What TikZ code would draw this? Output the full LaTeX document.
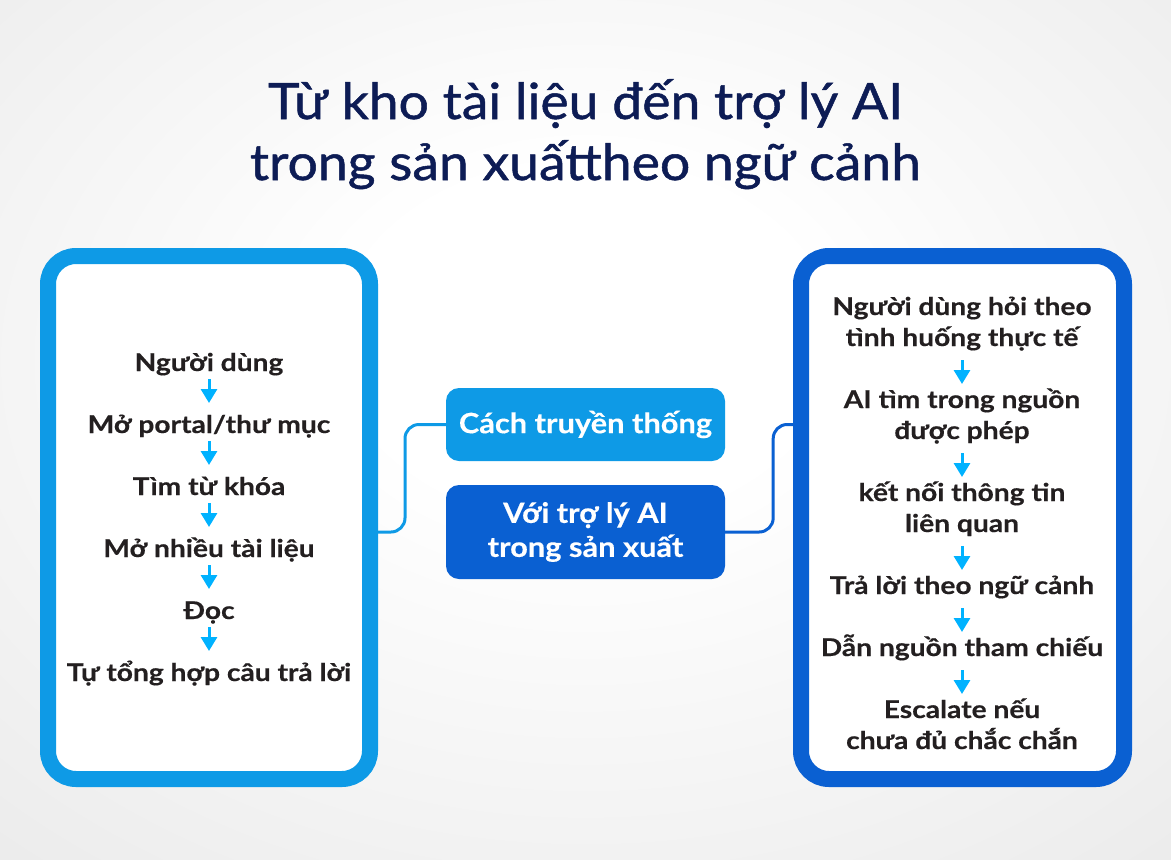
\documentclass[tikz,border=0pt]{standalone}
\usepackage{fontspec}
\setmainfont{Lato}[FakeStretch=1.15,FakeBold=0.4]
\newfontfamily\titlefont{Lato}[FakeBold=1,FakeStretch=1.07]
\newfontfamily\tagfont{Lato}[FakeStretch=1.1,FakeBold=0.3]
\usetikzlibrary{arrows.meta,calc}
\definecolor{lblue}{HTML}{0E9AE6}
\definecolor{dblue}{HTML}{0A60D2}
\definecolor{arrc}{HTML}{00B2FF}
\definecolor{titlec}{HTML}{0D1C55}
\definecolor{txtc}{HTML}{231F20}
\pgfdeclareradialshading{bgshade}{\pgfpoint{0bp}{6bp}}{color(0bp)=(white);color(10bp)=(white);color(50bp)=(black!11);color(75bp)=(black!18)}
\begin{document}
\begin{tikzpicture}[x=1pt,y=-1pt,
  panel/.style={draw, line width=16pt, rounded corners=28pt, fill=white, minimum width=322pt, minimum height=523pt, inner sep=0pt},
  tag/.style={rounded corners=13pt, text=white, font=\tagfont\bfseries\fontsize{28}{34}\selectfont, minimum width=279pt, inner sep=0pt, align=center},
  stepl/.style={font=\bfseries\fontsize{24.5}{31}\selectfont, text=txtc, anchor=base, inner sep=0pt},
  titl/.style={font=\titlefont\fontsize{50}{61}\selectfont, text=titlec, anchor=base, inner sep=0pt},
  flow/.style={draw=arrc, line width=3pt, -{Triangle[width=16pt,length=14pt]}},
  link/.style={line width=3pt, rounded corners=14pt}
]
\shade[shading=bgshade] (0,0) rectangle (1171,860);
\useasboundingbox (0,0) rectangle (1171,860);

\node[titl] (title1) at (585.5,119) {Từ kho tài liệu đến trợ lý AI};
\node[titl] (title2) at (585.5,180) {trong sản xuấttheo ngữ cảnh};

\node[panel, draw=lblue] (left) at (209,517.5) {};
\node[panel, draw=dblue, minimum width=323pt] (right) at (962.5,517.5) {};

\node[tag, fill=lblue, minimum height=73pt] (trad) at (585.5,424.5) {Cách truyền thống};
\node[tag, fill=dblue, minimum height=94pt] (ai) at (585.5,532) {Với trợ lý AI\\trong sản xuất};

\draw[link, draw=lblue] (left.east |- ai.center) -- ++(27,0) |- (trad.west);
\draw[link, draw=dblue] (ai.east) -- ++(48,0) |- (right.west |- trad.west);

\node[stepl] (l1) at (209,371) {Người dùng};
\node[stepl] (l2) at (209,433) {Mở portal/thư mục};
\node[stepl] (l3) at (209,495) {Tìm từ khóa};
\node[stepl] (l4) at (209,557) {Mở nhiều tài liệu};
\node[stepl] (l5) at (209,619) {Đọc};
\node[stepl] (l6) at (209,681) {Tự tổng hợp câu trả lời};
\foreach \a/\b in {l1/l2,l2/l3,l3/l4,l4/l5,l5/l6}
  \draw[flow] ($(\a.base)+(0,8)$) -- ($(\b.base)+(0,-30)$);

\node[stepl] (r1) at (962,315) {Người dùng hỏi theo};
\node[stepl] (r1b) at (962,346) {tình huống thực tế};
\node[stepl] (r2) at (962,408) {AI tìm trong nguồn};
\node[stepl] (r2b) at (962,439) {được phép};
\node[stepl] (r3) at (962,501) {kết nối thông tin};
\node[stepl] (r3b) at (962,532) {liên quan};
\node[stepl] (r4) at (962,594) {Trả lời theo ngữ cảnh};
\node[stepl] (r5) at (962,656) {Dẫn nguồn tham chiếu};
\node[stepl] (r6) at (962,718) {Escalate nếu};
\node[stepl] (r6b) at (962,749) {chưa đủ chắc chắn};
\foreach \a/\b in {r1b/r2,r2b/r3,r3b/r4,r4/r5,r5/r6}
  \draw[flow] ($(\a.base)+(0,14)$) -- ($(\b.base)+(0,-24)$);
\end{tikzpicture}
\end{document}
